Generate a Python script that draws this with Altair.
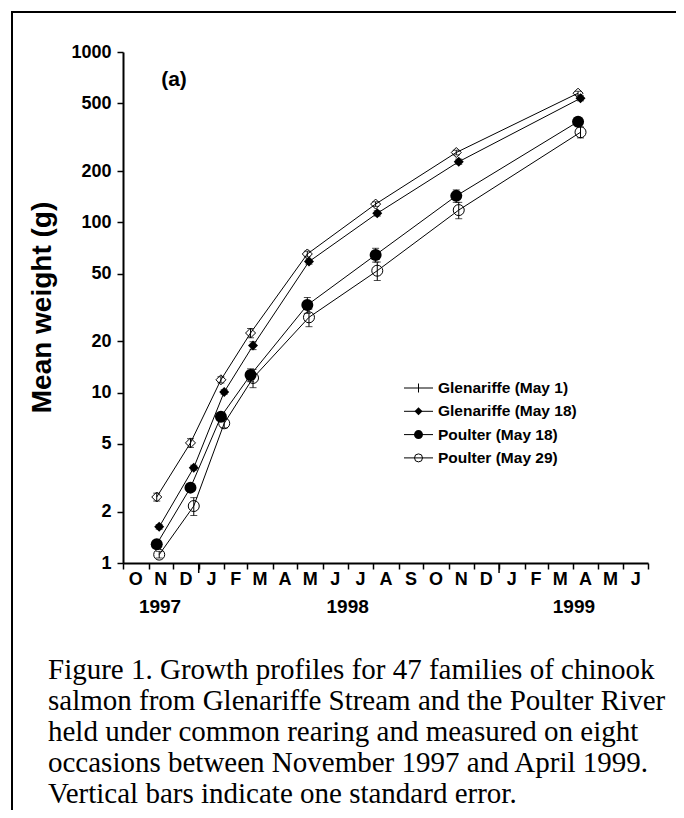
import altair as alt
import pandas as pd

# ---------------- data ----------------
series_names = ["Glenariffe (May 1)", "Glenariffe (May 18)", "Poulter (May 18)", "Poulter (May 29)"]
dates_a = ["1997-11-11", "1997-12-22", "1998-01-28", "1998-03-05", "1998-05-13", "1998-08-04", "1998-11-10", "1999-04-07"]
dates_b = ["1997-11-14", "1997-12-26", "1998-02-01", "1998-03-08", "1998-05-15", "1998-08-06", "1998-11-13", "1999-04-10"]

glen1_mean = [2.44, 5.07, 11.9, 22.4, 65.2, 128, 257, 573]
glen1_se = [0.13, 0.3, 0.5, 1.4, 2.5, 4, 8, 15]
glen18_mean = [1.63, 3.63, 10.1, 18.9, 58.8, 113, 227, 535]
glen18_se = [0.05, 0.12, 0.3, 1.0, 2, 4, 8, 18]
poul18_mean = [1.29, 2.77, 7.23, 12.7, 32.7, 64.4, 143, 390]
poul18_se = [0.04, 0.1, 0.35, 1.1, 3.5, 6, 12, 20]
poul29_mean = [1.12, 2.16, 6.61, 12.2, 27.7, 52.0, 118, 338]
poul29_se = [0.05, 0.26, 0.4, 1.5, 3.3, 6.4, 13, 25]

y_ticks = [1, 2, 5, 10, 20, 50, 100, 200, 500, 1000]
month_letters = ["O", "N", "D", "J", "F", "M", "A", "M", "J", "J", "A", "S",
                 "O", "N", "D", "J", "F", "M", "A", "M", "J"]
year_labels = ["1997", "1998", "1999"]
year_label_dates = ["1997-11-15", "1998-07-01", "1999-04-02"]
year_starts = ["1998-01-01", "1999-01-01"]
panel_label = "(a)"
y_title = "Mean weight (g)"
caption_lines = [
    "Figure 1. Growth profiles for 47 families of chinook",
    "salmon from Glenariffe Stream and the Poulter River",
    "held under common rearing and measured on eight",
    "occasions between November 1997 and April 1999.",
    "Vertical bars indicate one standard error.",
]

# ---------------- tables ----------------
series_data = [
    (series_names[0], dates_a, glen1_mean, glen1_se),
    (series_names[1], dates_b, glen18_mean, glen18_se),
    (series_names[2], dates_a, poul18_mean, poul18_se),
    (series_names[3], dates_b, poul29_mean, poul29_se),
]
rows = []
for name, ds, ms, ses in series_data:
    for d, m, s in zip(ds, ms, ses):
        rows.append({"series": name, "date": pd.Timestamp(d), "mean": m,
                     "lo": m - s, "hi": m + s})
df = pd.DataFrame(rows)

month_starts = pd.date_range("1997-10-01", "1999-07-01", freq="MS")
month_mids = month_starts[:-1] + (month_starts[1:] - month_starts[:-1]) / 2
months_df = pd.DataFrame({"date": month_mids, "label": month_letters})
years_df = pd.DataFrame({"date": pd.to_datetime(year_label_dates), "label": year_labels})
ystart_df = pd.DataFrame({"date": pd.to_datetime(year_starts)})
one = pd.DataFrame({"k": [0]})

# ---------------- scales / axes ----------------
SANS = "Liberation Sans"
SERIF = "Liberation Serif"

xs = alt.Scale(domain=[alt.DateTime(year=1997, month=10, date=1),
                       alt.DateTime(year=1999, month=7, date=1)], nice=False)
ys = alt.Scale(type="log", domain=[1, 1000], nice=False)

xax = alt.Axis(values=[alt.DateTime(year=int(t.year), month=int(t.month), date=1) for t in month_starts],
               labels=False, ticks=True, tickSize=6, tickWidth=1.5, tickColor="black",
               domainColor="black", domainWidth=2, grid=False, title=None)
yax = alt.Axis(values=y_ticks, format="d", labelFont=SANS, labelFontWeight="bold",
               labelFontSize=18, labelColor="black", labelPadding=6, tickSize=6,
               tickWidth=1.5, tickColor="black", domainColor="black", domainWidth=2,
               grid=False, title=y_title, titleFont=SANS, titleFontSize=28,
               titleFontWeight="bold", titleColor="black", titleX=-81, titleY=255,
               titleAngle=270, titleAlign="center", titleBaseline="middle")


def X(field):
    return alt.X(field, type="temporal", scale=xs, axis=xax)


def Y(field):
    return alt.Y(field, type="quantitative", scale=ys, axis=yax)


base = alt.Chart(df)
lines = base.mark_line(color="black", strokeWidth=1).encode(
    x=X("date"), y=Y("mean"), detail="series:N")
err = base.mark_rule(color="black", strokeWidth=1).encode(
    x=X("date"), y=Y("lo"), y2="hi")
cap_lo = base.mark_tick(color="black", thickness=1, size=7, orient="horizontal").encode(
    x=X("date"), y=Y("lo"))
cap_hi = base.mark_tick(color="black", thickness=1, size=7, orient="horizontal").encode(
    x=X("date"), y=Y("hi"))

point_styles = {
    series_names[0]: dict(shape="diamond", filled=False, size=100),
    series_names[1]: dict(shape="diamond", filled=True, size=100),
    series_names[2]: dict(shape="circle", filled=True, size=144),
    series_names[3]: dict(shape="circle", filled=False, size=121),
}
point_layers = []
for name in series_names:
    st = point_styles[name]
    point_layers.append(
        alt.Chart(df).transform_filter(alt.datum.series == name)
        .mark_point(shape=st["shape"], filled=st["filled"], size=st["size"],
                    color="black", strokeWidth=1, opacity=1)
        .encode(x=X("date"), y=Y("mean"))
    )

# axis decorations
long_ticks = alt.Chart(ystart_df).mark_rule(color="black", strokeWidth=1.5).encode(
    x=X("date"), y=alt.value(511), y2=alt.value(521))
month_text = alt.Chart(months_df).mark_text(
    font=SANS, fontSize=18, fontWeight="bold", color="black", baseline="middle", align="center"
).encode(x=X("date"), y=alt.value(528), text="label:N")
year_text = alt.Chart(years_df).mark_text(
    font=SANS, fontSize=19, fontWeight="bold", color="black", baseline="middle", align="center"
).encode(x=X("date"), y=alt.value(555), text="label:N")

# legend
legend_styles = [
    dict(shape="M0,-1L0,1", filled=False, size=81),
    dict(shape="diamond", filled=True, size=64),
    dict(shape="circle", filled=True, size=81),
    dict(shape="circle", filled=False, size=64),
]
legend_layers = []
for i, name in enumerate(series_names):
    yy = 336 + i * 23.3
    st = legend_styles[i]
    legend_layers.append(alt.Chart(one).mark_rule(color="black", strokeWidth=1).encode(
        x=alt.value(281), x2=alt.value(310), y=alt.value(yy)))
    legend_layers.append(alt.Chart(one).mark_point(
        shape=st["shape"], filled=st["filled"], size=st["size"], color="black",
        strokeWidth=1, opacity=1).encode(x=alt.value(295.5), y=alt.value(yy)))
    legend_layers.append(alt.Chart(one).mark_text(
        font=SANS, fontSize=15.5, fontWeight="bold", color="black", align="left",
        baseline="middle").encode(x=alt.value(315), y=alt.value(yy), text=alt.value(name)))

panel = alt.Chart(one).mark_text(font=SANS, fontSize=21, fontWeight="bold", color="black",
                                 align="center", baseline="alphabetic").encode(
    x=alt.value(51), y=alt.value(34), text=alt.value(panel_label))

caption = alt.Chart(one).mark_text(font=SERIF, fontSize=29, color="black", align="left",
                                   baseline="alphabetic", lineHeight=31).encode(
    x=alt.value(-75), y=alt.value(627), text=alt.value(caption_lines))

frame_left = alt.Chart(one).mark_rule(color="black", strokeWidth=2).encode(
    x=alt.value(-111), y=alt.value(-40), y2=alt.value(770))
frame_top = alt.Chart(one).mark_rule(color="black", strokeWidth=2).encode(
    x=alt.value(-112), x2=alt.value(565), y=alt.value(-40))

chart = alt.layer(
    lines, err, cap_lo, cap_hi, *point_layers, long_ticks, month_text, year_text,
    *legend_layers, panel, caption, frame_left, frame_top
).properties(
    width=525, height=511,
    autosize=alt.AutoSizeParams(type="none"),
    padding={"left": 115, "top": 44, "right": 28, "bottom": 247},
).configure_view(stroke=None)

chart.save("out.html", embed_options={"renderer": "svg", "actions": False})
